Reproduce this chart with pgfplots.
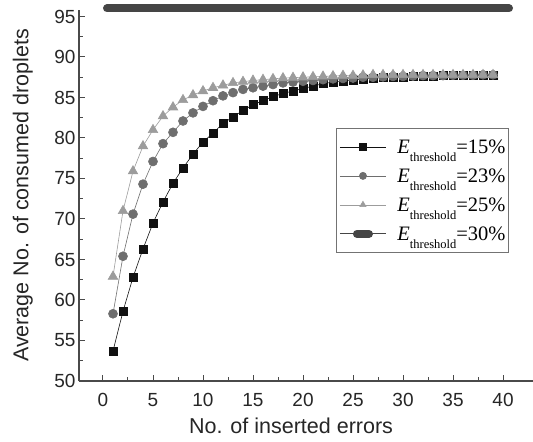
\documentclass[border=0pt]{standalone}
\usepackage{fontspec}
\setmainfont{Liberation Sans}
\newfontfamily\tnr{Liberation Serif}
\usepackage{pgfplots}
\pgfplotsset{compat=1.18}

\definecolor{axgray}{HTML}{4A4A4A}
\definecolor{sqcol}{HTML}{111111}
\definecolor{cicol}{HTML}{6E6E6E}
\definecolor{trcol}{HTML}{9C9C9C}
\definecolor{barcol}{HTML}{454545}

\newcommand{\Eth}[1]{{\tnr\fontsize{20.5bp}{22bp}\selectfont\textit{E}\raisebox{-8bp}{\fontsize{12.5bp}{13bp}\selectfont threshold}=#1\%}}

\pgfplotstableread{
x  s15   s23   s25
1  53.7  58.3  62.9
2  58.6  65.4  71.0
3  62.8  70.6  75.9
4  66.3  74.3  79.0
5  69.5  77.1  81.0
6  72.1  79.3  82.7
7  74.4  80.7  83.8
8  76.3  82.1  84.7
9  78.0  83.1  85.3
10 79.5  83.9  85.8
11 80.6  84.6  86.2
12 81.8  85.2  86.5
13 82.6  85.6  86.8
14 83.4  86.0  86.95
15 84.1  86.2  87.1
16 84.6  86.4  87.2
17 85.1  86.6  87.3
18 85.5  86.8  87.4
19 85.8  86.9  87.45
20 86.1  87.0  87.5
21 86.4  87.1  87.55
22 86.7  87.2  87.6
23 86.9  87.3  87.65
24 87.0  87.35 87.7
25 87.15 87.4  87.7
26 87.3  87.5  87.75
27 87.4  87.5  87.8
28 87.45 87.55 87.8
29 87.5  87.6  87.8
30 87.55 87.6  87.8
31 87.6  87.65 87.8
32 87.6  87.7  87.8
33 87.65 87.7  87.8
34 87.7  87.7  87.8
35 87.7  87.75 87.8
36 87.7  87.75 87.8
37 87.75 87.75 87.8
38 87.75 87.8  87.8
39 87.75 87.8  87.8
}\datatable

\begin{document}
\begin{tikzpicture}
\begin{axis}[
    scale only axis,
    width=454bp, height=371bp,
    xmin=-2.4, xmax=43, ymin=50, ymax=95.8,
    clip=false,
    axis x line*=bottom, axis y line*=left,
    axis line style={axgray, line width=1.2bp},
    xtick={0,5,...,40}, ytick={50,55,...,95},
    minor tick num=1,
    tick align=inside,
    tick style={axgray, line width=1bp},
    major tick length=6bp, minor tick length=4bp,
    /pgf/number format/assume math mode=true,
    tick label style={font=\fontsize{19bp}{22bp}\selectfont, text=black!85},
    xticklabel style={anchor=base, yshift=-25bp},
    label style={font=\fontsize{21.5bp}{24bp}\selectfont, text=black!85},
    xlabel={No. of inserted errors},
    ylabel={Average No. of consumed droplets},
    xlabel style={at={(axis description cs:0.467,0)}, anchor=base, yshift=-52bp},
    ylabel style={at={(axis description cs:-0.124,0.5)}, anchor=center},
    legend style={at={(rel axis cs:0.947,0.682)}, anchor=north east,
        draw=black!55, line width=0.8bp, inner xsep=1bp, inner ysep=2bp,
        row sep=-4bp,
        nodes={inner ysep=2bp, inner xsep=2bp, text height=21bp, text depth=8bp, anchor=west}},
    legend cell align=left,
    legend image code/.code={\path (-2bp,0bp) (55bp,0bp); \draw[mark repeat=2, mark phase=2, mark size=3.6bp] plot coordinates {(0bp,0bp) (23bp,0bp) (46bp,0bp)};},
]
\addplot[sqcol, line width=0.6bp, mark=square*, mark size=4bp, mark options={fill=sqcol}] table[x=x, y=s15] {\datatable};
\addlegendentry{\Eth{15}}
\addplot[cicol, line width=0.6bp, mark=*, mark size=4.5bp, mark options={fill=cicol}] table[x=x, y=s23] {\datatable};
\addlegendentry{\Eth{23}}
\addplot[trcol, line width=0.6bp, mark=triangle*, mark size=5.5bp, mark options={fill=trcol}] table[x=x, y=s25] {\datatable};
\addlegendentry{\Eth{25}}
\addplot[barcol, line width=8bp, line cap=round, forget plot] coordinates {(0.4,96) (40.6,96)};
\addlegendimage{legend image code/.code={\path (-2bp,0bp) (55bp,0bp); \draw[barcol, line width=0.8bp] (0bp,0bp) -- (46bp,0bp); \draw[barcol, line width=8bp, line cap=round] (17bp,0bp) -- (29bp,0bp);}}
\addlegendentry{\Eth{30}}
\end{axis}
\pgfresetboundingbox
\path (current axis.south west) ++(-79bp,-61bp) rectangle ++(533bp,442bp);
\end{tikzpicture}
\end{document}
